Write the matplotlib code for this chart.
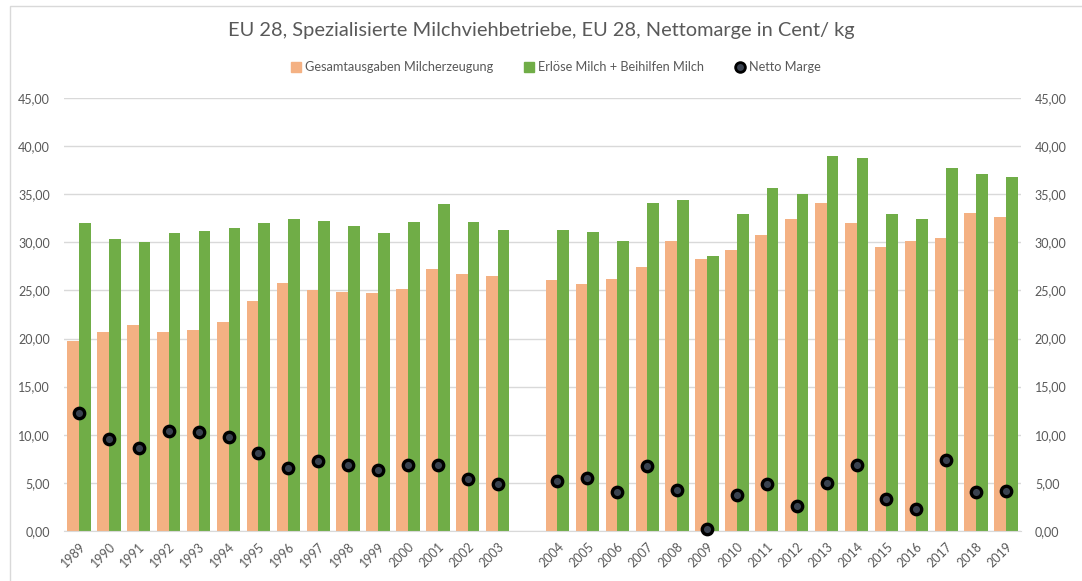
import numpy as np
import matplotlib
matplotlib.use("Agg")
import matplotlib.pyplot as plt
from matplotlib.ticker import FuncFormatter
from matplotlib.lines import Line2D
from matplotlib.patches import Rectangle

plt.rcParams['font.family'] = ['Lato', 'DejaVu Sans']

years = ['1989', '1990', '1991', '1992', '1993', '1994', '1995', '1996', '1997', '1998',
         '1999', '2000', '2001', '2002', '2003', '',
         '2004', '2005', '2006', '2007', '2008', '2009', '2010', '2011', '2012', '2013',
         '2014', '2015', '2016', '2017', '2018', '2019']

ausgaben = [19.72, 20.70, 21.40, 20.65, 20.86, 21.70, 23.90, 25.80, 25.00, 24.83,
            24.70, 25.20, 27.24, 26.70, 26.45, np.nan,
            26.07, 25.62, 26.14, 27.48, 30.17, 28.31, 29.17, 30.79, 32.45, 34.14,
            31.97, 29.48, 30.10, 30.41, 33.07, 32.66]

erloese = [32.00, 30.30, 30.07, 31.00, 31.20, 31.50, 32.00, 32.40, 32.20, 31.70,
           31.00, 32.10, 34.00, 32.10, 31.30, np.nan,
           31.31, 31.03, 30.17, 34.14, 34.45, 28.55, 32.97, 35.69, 35.00, 39.00,
           38.79, 32.90, 32.41, 37.69, 37.07, 36.83]

netto = [12.30, 9.58, 8.58, 10.38, 10.31, 9.76, 8.06, 6.57, 7.27, 6.89,
         6.33, 6.89, 6.82, 5.40, 4.84, np.nan,
         5.24, 5.49, 4.10, 6.74, 4.24, 0.20, 3.78, 4.86, 2.60, 4.97,
         6.81, 3.37, 2.29, 7.36, 4.10, 4.17]

c_orange = '#F4B183'
c_green = '#70AD47'
c_text = '#595959'
c_grid = '#D9D9D9'

fig = plt.figure(figsize=(10.82, 5.81), dpi=100)
ax = fig.add_axes([0.0592, 0.0861, 0.8844, 0.7452])

x = np.arange(len(years))
w = 0.39
ax.bar(x - w / 2, ausgaben, width=w, color=c_orange, zorder=2)
ax.bar(x + w / 2, erloese, width=w, color=c_green, zorder=2)

ax.set_xlim(-0.5, len(years) - 0.5)
ax.set_ylim(0, 45)
ax.set_yticks(np.arange(0, 46, 5))
fmt = FuncFormatter(lambda v, p: f"{v:.2f}".replace('.', ','))
ax.yaxis.set_major_formatter(fmt)
ax.grid(axis='y', color=c_grid, linewidth=1, zorder=0)
ax.set_axisbelow(True)
for s in ['top', 'right', 'left']:
    ax.spines[s].set_visible(False)
ax.spines['bottom'].set_color(c_grid)
ax.set_xticks(x)
ax.set_xticklabels(years, rotation=45, ha='right', rotation_mode='anchor')
ax.tick_params(axis='x', length=0, colors=c_text, labelsize=9, pad=7)
ax.tick_params(axis='y', length=0, colors=c_text, labelsize=9, pad=10)

ax2 = ax.twinx()
ax2.set_ylim(0, 45)
ax2.set_yticks(np.arange(0, 46, 5))
ax2.yaxis.set_major_formatter(fmt)
for s in ['top', 'right', 'left', 'bottom']:
    ax2.spines[s].set_visible(False)
ax2.tick_params(axis='y', length=0, colors=c_text, labelsize=9, pad=10)
ax2.plot(x, netto, linestyle='none', marker='o', markersize=7.5,
         markerfacecolor='#3A4250', markeredgecolor='black', markeredgewidth=2.4,
         zorder=5, clip_on=False)

fig.text(0.5, 0.948, 'EU 28, Spezialisierte Milchviehbetriebe, EU 28, Nettomarge in Cent/ kg',
         ha='center', va='center', fontsize=14.4, color=c_text)

handles = [
    Line2D([], [], linestyle='none', marker='s', markersize=7, color=c_orange),
    Line2D([], [], linestyle='none', marker='s', markersize=7, color=c_green),
    Line2D([], [], linestyle='none', marker='o', markersize=7,
           markerfacecolor='#3A4250', markeredgecolor='black', markeredgewidth=2),
]
labels = ['Gesamtausgaben Milcherzeugung', 'Erlöse Milch + Beihilfen Milch', 'Netto Marge']
fig.legend(handles, labels, loc='center', bbox_to_anchor=(0.513, 0.884), ncol=3,
           frameon=False, fontsize=9.2, labelcolor=c_text, handletextpad=0.2,
           columnspacing=2.3, handlelength=1.0)

fig.patches.append(Rectangle((0.009, -0.01), 1.2, 1.0, transform=fig.transFigure,
                             fill=False, edgecolor=c_grid, linewidth=1))

fig.savefig('out.png', dpi=100)
